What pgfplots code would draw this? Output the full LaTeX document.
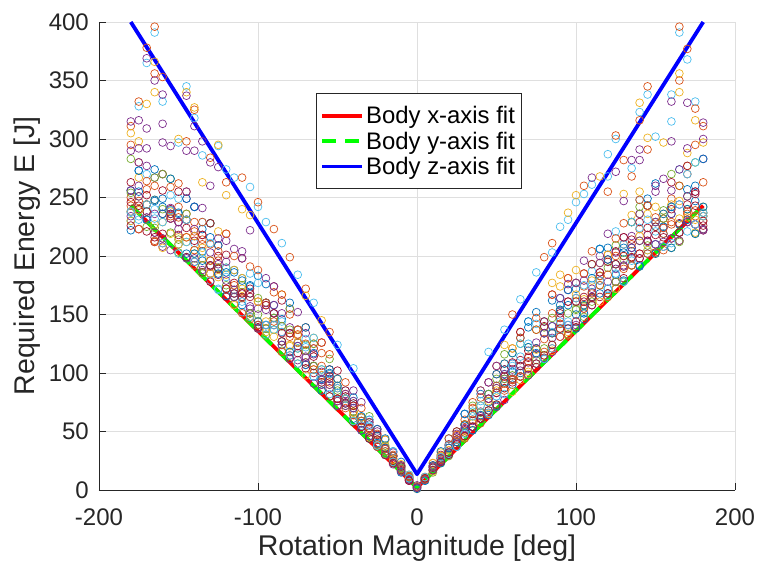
\documentclass[border=0pt]{standalone}
\usepackage{fontspec}
\setmainfont{Liberation Sans}
\usepackage{pgfplots}
\pgfplotsset{compat=1.18}
\usepackage{pgfplotstable}
\definecolor{mc1}{rgb}{0,0.447,0.741}
\definecolor{mc2}{rgb}{0.850,0.325,0.098}
\definecolor{mc3}{rgb}{0.929,0.694,0.125}
\definecolor{mc4}{rgb}{0.494,0.184,0.556}
\definecolor{mc5}{rgb}{0.466,0.674,0.188}
\definecolor{mc6}{rgb}{0.301,0.745,0.933}
\definecolor{mc7}{rgb}{0.635,0.078,0.184}
\definecolor{axc}{rgb}{0.15,0.15,0.15}
\definecolor{gridc}{rgb}{0.875,0.875,0.875}

\pgfplotstableread{
x s1 s2 s3 s4 s5 s6 s7 s8 s9 s10
-180 230 250 230 256 283 237 263 256 243 256
-175 273 280 267 280 240 234 240 273 247 260
-170 231 257 244 238 238 270 238 231 264 277
-165 247 213 227 267 267 240 220 274 260 220
-160 249 270 229 270 270 229 256 242 215 208
-155 239 259 219 205 266 252 232 266 232 232
-150 236 262 216 223 203 249 255 210 242 229
-145 199 236 212 249 236 212 199 249 255 255
-140 242 229 205 242 192 211 217 242 205 223
-135 204 210 198 192 192 229 186 223 229 241
-130 228 191 185 203 228 179 228 216 210 185
-125 190 184 221 184 190 172 209 209 196 215
-120 166 219 184 213 190 190 201 166 219 195
-115 188 159 188 206 171 171 177 165 200 171
-110 181 169 181 204 175 152 198 158 164 198
-105 168 191 151 151 151 185 168 174 146 157
-100 183 161 144 139 150 177 139 144 188 155
-95 176 160 144 138 138 133 160 160 160 181
-90 158 147 147 158 137 137 174 147 169 174
-85 146 140 167 135 119 135 162 124 167 151
-80 134 134 123 155 155 118 113 160 150 139
-75 137 137 132 152 121 121 126 126 137 111
-70 109 139 119 134 124 129 119 139 109 114
-65 106 125 130 121 125 130 106 97 121 116
-60 94 117 90 94 85 90 126 85 126 90
-55 95 99 103 95 112 99 103 103 116 87
-50 83 87 95 72 83 87 102 95 76 72
-45 78 82 78 75 72 85 85 78 92 72
-40 61 67 67 85 67 76 58 79 64 76
-35 51 57 62 75 54 62 54 57 70 59
-30 60 49 53 56 63 60 44 44 58 58
-25 37 48 43 39 46 46 52 52 39 50
-20 36 43 43 31 38 33 30 44 33 30
-15 33 30 25 32 25 33 25 29 27 23
-10 24 16 22 16 20 18 21 19 18 21
-5 12 12 13 9 11 13 8 10 11 8
0 2 3 1 4 2 3 2 1 3 2
5 8 9 9 10 10 8 11 8 10 11
10 19 23 23 17 15 19 21 21 20 17
15 24 26 32 27 24 27 30 33 29 24
20 44 36 31 38 31 31 39 30 44 36
25 43 43 37 46 50 41 50 37 43 48
30 56 60 56 65 56 65 46 65 56 51
35 51 75 57 54 72 67 54 54 70 59
40 82 61 85 67 64 76 61 61 79 85
45 75 68 65 82 68 68 92 82 78 92
50 72 99 87 87 95 80 83 99 106 106
55 103 87 108 95 116 99 103 108 91 99
60 90 121 121 108 117 108 94 117 94 103
65 130 135 97 102 125 125 135 106 130 97
70 139 114 99 104 104 144 119 144 104 109
75 152 147 121 121 137 142 121 121 137 116
80 134 134 113 144 139 144 144 134 129 113
85 162 151 119 130 124 135 167 140 167 140
90 158 142 174 153 137 137 147 164 142 164
95 138 181 133 171 133 144 138 171 181 176
100 172 139 188 161 155 177 139 150 177 177
105 146 174 163 196 157 151 185 151 185 179
110 164 204 169 158 193 187 193 181 164 169
115 206 183 194 200 183 206 165 206 183 194
120 207 201 201 219 190 166 195 172 184 178
125 172 172 172 203 209 221 178 184 215 178
130 203 210 191 216 197 210 216 179 228 191
135 229 229 235 217 229 229 192 204 210 198
140 236 223 236 236 242 248 229 192 248 198
145 243 218 236 218 243 205 243 249 243 212
150 210 229 242 255 229 229 203 262 203 210
155 219 219 232 266 239 225 232 225 205 212
160 236 249 242 236 270 242 263 242 229 256
165 220 213 247 213 260 274 227 227 260 274
170 257 270 277 231 251 270 277 231 238 251
175 247 234 220 227 280 280 253 260 227 227
180 237 230 237 283 223 237 230 283 263 223
}\band

\pgfplotstableread{
x t1 t2 t3 t4 t5 t6 t7 t8
-180 254 246 238 222 234 238 238 226
-175 251 223 239 255 251 223 231 243
-170 225 252 244 244 233 244 244 221
-165 224 212 248 248 236 212 232 216
-160 240 236 207 236 215 211 211 219
-155 220 240 238 236 241 234 239 236
-150 214 229 210 237 229 233 202 218
-145 231 231 216 202 198 216 231 224
-140 202 195 217 202 198 221 195 213
-135 185 218 207 196 188 214 203 218
-130 196 178 185 192 192 196 211 192
-125 189 189 182 185 193 204 171 200
-120 175 165 172 186 179 172 182 172
-115 165 168 158 186 165 175 168 168
-110 165 165 172 179 168 151 161 168
-105 151 165 148 175 155 148 148 172
-100 164 141 161 141 138 141 138 138
-95 132 141 135 141 154 158 141 158
-90 147 141 131 151 151 144 141 151
-85 140 134 127 127 124 118 144 127
-80 137 115 124 118 112 131 115 134
-75 108 126 126 123 123 133 108 117
-70 119 107 98 107 113 125 122 104
-65 106 100 103 117 91 103 97 114
-60 103 98 98 95 101 106 103 92
-55 80 80 90 100 90 92 82 97
-50 85 78 89 89 76 78 83 78
-45 78 80 78 74 82 70 78 74
-40 59 74 66 70 70 72 59 72
-35 59 62 62 63 51 59 55 54
-30 45 53 45 46 46 52 55 44
-25 43 43 38 40 37 37 38 47
-20 31 36 37 36 35 35 30 30
-15 23 29 26 29 22 29 24 23
-10 19 17 16 15 16 20 20 20
-5 10 9 10 10 9 11 10 8
5 10 9 11 9 9 9 11 10
10 20 19 16 17 20 17 17 17
15 23 27 29 23 25 28 28 24
20 29 30 34 36 32 38 38 32
25 41 41 47 41 45 47 37 39
30 49 52 45 55 53 44 48 46
35 65 65 63 51 54 60 63 54
40 66 61 72 64 63 57 72 61
45 82 78 76 64 78 66 66 68
50 73 83 85 89 71 89 80 73
55 95 87 92 92 77 85 82 97
60 98 109 84 101 95 95 106 92
65 97 111 94 100 97 97 114 106
70 122 104 101 122 98 110 125 113
75 111 105 120 117 126 108 108 108
80 121 140 115 112 134 118 112 115
85 147 134 134 134 118 121 121 124
90 154 151 138 154 131 131 144 138
95 151 161 135 158 141 132 141 161
100 154 161 167 138 141 164 164 144
105 148 165 158 158 155 155 175 161
110 161 158 179 165 172 168 175 165
115 175 179 161 168 186 175 179 186
120 168 197 165 197 168 165 172 168
125 178 204 193 193 189 200 185 193
130 178 181 200 207 192 189 178 200
135 192 214 199 207 207 192 196 199
140 213 198 217 191 213 202 224 202
145 209 224 205 202 213 202 231 213
150 225 225 202 202 229 233 221 218
155 232 208 236 236 224 224 208 216
160 207 215 244 207 215 227 211 240
165 212 228 232 220 244 220 244 220
170 240 229 233 240 229 236 221 244
175 219 243 231 219 255 239 227 255
180 242 222 234 242 222 234 234 226
}\bandb

\pgfplotstableread{
x y
165 391
170 368
160 338
145 338
175 332
140 323
160 315
125 300
150 302
120 287
135 275
120 268
110 261
105 253
100 246
95 231
90 225
85 203
75 186
65 163
55 137
45 118
-165 391
-170 365
-160 332
-175 328
-145 345
-140 318
-150 297
-125 294
-135 286
-120 274
-115 267
-105 259
-100 242
-95 229
-85 211
-75 184
-65 160
-50 124
-40 104
}\outA

\pgfplotstableread{
x y
165 396
170 377
165 350
145 345
175 326
180 311
140 316
125 303
145 291
130 282
135 268
120 255
105 260
85 211
80 199
60 150
175 295
-165 396
-170 378
-165 356
-160 353
-175 332
-180 311
-140 325
-145 298
-130 284
-120 263
-110 267
-100 246
-90 223
-80 199
-70 172
-55 135
-180 295
}\outB

\pgfplotstableread{
x y
165 356
165 340
175 316
140 331
145 301
155 297
130 253
140 255
115 268
100 252
95 237
85 177
90 184
55 124
180 297
170 288
-165 366
-165 340
-180 305
-170 330
-140 327
-145 340
-150 300
-125 295
-135 263
-105 235
-110 240
-120 252
-70 166
-60 145
-175 298
}\outC

\pgfplotstableread{
x y
170 331
160 332
140 291
160 298
170 292
180 314
135 282
125 272
110 267
150 260
140 282
130 247
180 300
-170 369
-165 350
-160 338
-180 315
-175 316
-170 309
-160 313
-160 297
-145 337
-140 311
-155 294
-140 290
-145 290
-130 280
-125 276
-135 298
-130 260
-105 222
-175 292
-170 292
-180 290
}\outD

\begin{document}
\begin{tikzpicture}
\begin{axis}[
  scale only axis, width=636bp, height=468bp,
  xmin=-200, xmax=200, ymin=0, ymax=400,
  xtick={-200,-100,0,100,200}, ytick={0,50,100,150,200,250,300,350,400},
  axis x line*=bottom, axis y line*=left,
  axis line style={draw=axc, line width=0.8bp},
  grid=major, major grid style={draw=gridc, line width=0.8bp},
  tick style={draw=axc, line width=0.8bp}, major tick length=7bp, tick align=inside,
  tick label style={font=\fontsize{24bp}{28bp}\selectfont, text=axc},
  /pgf/number format/assume math mode=true,
  xticklabel style={inner sep=0pt, anchor=north, yshift=-18.5bp},
  yticklabel style={inner sep=0pt, anchor=east, xshift=-10bp},
  xlabel={Rotation Magnitude [deg]}, ylabel={Required Energy E [J]},
  label style={font=\fontsize{28.5bp}{33bp}\selectfont, text=axc},
  xlabel style={at={(axis description cs:0.5,-0.1389)}, anchor=base},
  ylabel style={at={(axis description cs:-0.1124,0.5)}, anchor=center},
  legend style={at={(axis description cs:0.3412,0.8483)}, anchor=north west,
    draw=axc, line width=0.8bp, fill=white,
    font=\fontsize{23.9bp}{27bp}\selectfont, inner xsep=4bp, inner ysep=12bp,
    nodes={inner xsep=2bp, inner ysep=1bp},
    row sep=4.5bp, /tikz/every even column/.append style={column sep=1bp}},
  legend cell align=left,
  legend image code/.code={\draw[#1, line width=3.8bp] (0bp,0bp) -- (40bp,0bp);},
  mark size=3.9bp,
]
\addplot[only marks, mark=o, mc1, mark options={line width=0.7bp}, forget plot] table[x=x,y=s1] {\band};
\addplot[only marks, mark=o, mc2, mark options={line width=0.7bp}, forget plot] table[x=x,y=s2] {\band};
\addplot[only marks, mark=o, mc3, mark options={line width=0.7bp}, forget plot] table[x=x,y=s3] {\band};
\addplot[only marks, mark=o, mc4, mark options={line width=0.7bp}, forget plot] table[x=x,y=s4] {\band};
\addplot[only marks, mark=o, mc5, mark options={line width=0.7bp}, forget plot] table[x=x,y=s5] {\band};
\addplot[only marks, mark=o, mc6, mark options={line width=0.7bp}, forget plot] table[x=x,y=s6] {\band};
\addplot[only marks, mark=o, mc7, mark options={line width=0.7bp}, forget plot] table[x=x,y=s7] {\band};
\addplot[only marks, mark=o, mc1, mark options={line width=0.7bp}, forget plot] table[x=x,y=s8] {\band};
\addplot[only marks, mark=o, mc2, mark options={line width=0.7bp}, forget plot] table[x=x,y=s9] {\band};
\addplot[only marks, mark=o, mc4, mark options={line width=0.7bp}, forget plot] table[x=x,y=s10] {\band};
\addplot[only marks, mark=o, mc5, mark options={line width=0.7bp}, forget plot] table[x=x,y=t1] {\bandb};
\addplot[only marks, mark=o, mc7, mark options={line width=0.7bp}, forget plot] table[x=x,y=t2] {\bandb};
\addplot[only marks, mark=o, mc3, mark options={line width=0.7bp}, forget plot] table[x=x,y=t3] {\bandb};
\addplot[only marks, mark=o, mc1, mark options={line width=0.7bp}, forget plot] table[x=x,y=t4] {\bandb};
\addplot[only marks, mark=o, mc4, mark options={line width=0.7bp}, forget plot] table[x=x,y=t5] {\bandb};
\addplot[only marks, mark=o, mc2, mark options={line width=0.7bp}, forget plot] table[x=x,y=t6] {\bandb};
\addplot[only marks, mark=o, mc6, mark options={line width=0.7bp}, forget plot] table[x=x,y=t7] {\bandb};
\addplot[only marks, mark=o, mc7, mark options={line width=0.7bp}, forget plot] table[x=x,y=t8] {\bandb};
\addplot[only marks, mark=o, mc6, mark options={line width=0.7bp}, forget plot] table[x=x,y=y] {\outA};
\addplot[only marks, mark=o, mc2, mark options={line width=0.7bp}, forget plot] table[x=x,y=y] {\outB};
\addplot[only marks, mark=o, mc3, mark options={line width=0.7bp}, forget plot] table[x=x,y=y] {\outC};
\addplot[only marks, mark=o, mc4, mark options={line width=0.7bp}, forget plot] table[x=x,y=y] {\outD};
\addplot[red, line width=3.8bp, line join=round, no marks] coordinates {(-180,243) (0,2) (180,243)};
\addlegendentry{Body x-axis fit\hspace{6bp}}
\addplot[green, line width=3.8bp, dash pattern=on 14bp off 9bp, line join=round, no marks] coordinates {(-180,243) (0,2) (180,243)};
\addlegendentry{Body y-axis fit\hspace{6bp}}
\addplot[blue, line width=3.8bp, line join=round, no marks] coordinates {(-180,400) (0,13.5) (180,400)};
\addlegendentry{Body z-axis fit\hspace{6bp}}
\end{axis}
\path ([xshift=-99bp,yshift=-79bp]current axis.south west) rectangle ([xshift=23bp,yshift=22bp]current axis.north east);
\end{tikzpicture}
\end{document}
